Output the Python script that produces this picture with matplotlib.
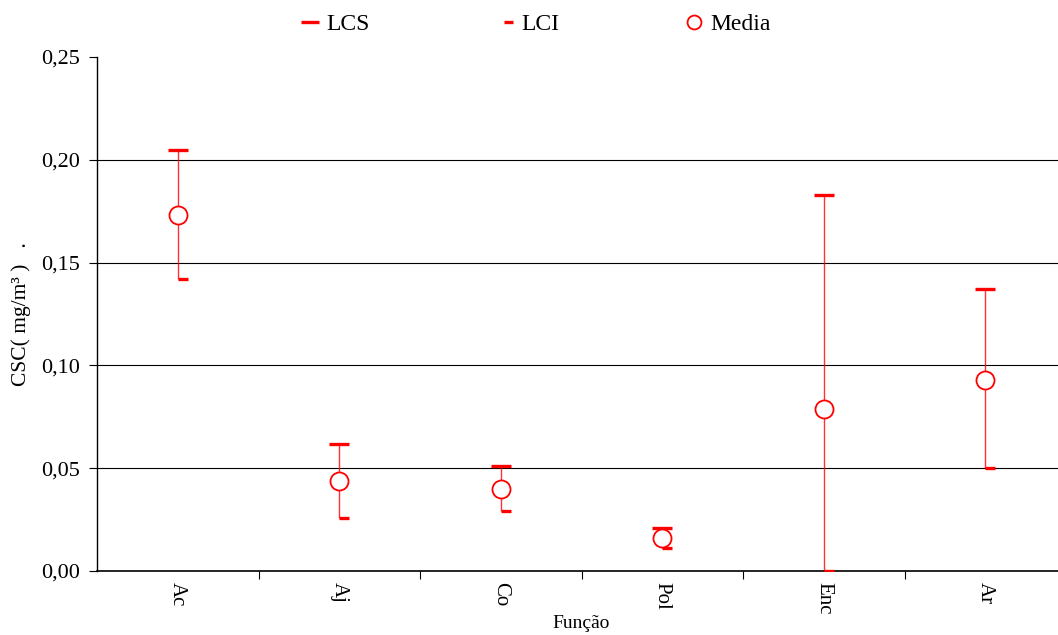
import matplotlib
matplotlib.use("Agg")
import matplotlib.pyplot as plt
from matplotlib.lines import Line2D
from matplotlib.path import Path

# Limites de confiança e média por função
funcoes = ["Ac", "Aj", "Co", "Pol", "Enc", "Ar"]
lcs = [0.205, 0.062, 0.051, 0.021, 0.183, 0.137]
media = [0.173, 0.044, 0.040, 0.016, 0.079, 0.093]
lci = [0.142, 0.026, 0.029, 0.011, 0.000, 0.050]

plt.rcParams["font.family"] = ["Liberation Serif", "DejaVu Serif"]
plt.rcParams["font.size"] = 15

VERM = "#ff0000"
meio_traco = Path([(0, 0), (1, 0)], [Path.MOVETO, Path.LINETO])

fig = plt.figure(figsize=(10.58, 6.35), dpi=100)
ax = fig.add_axes([97 / 1058, 1 - 571 / 635, 969 / 1058, 514 / 635])

x = list(range(len(funcoes)))
ax.vlines(x, lci, lcs, color=VERM, lw=1, alpha=0.8, zorder=3)
ax.plot(x, lcs, ls="none", marker="_", ms=14.5, mew=2.4, color=VERM, zorder=4)
ax.plot(x, lci, ls="none", marker=meio_traco, ms=14.5, mew=2.4, color=VERM, zorder=4)
ax.plot(x, media, ls="none", marker="o", ms=13, mfc="white", mec=VERM, mew=1.3, zorder=5)

ax.set_xlim(-0.5, len(funcoes) - 0.5)
ax.set_ylim(0, 0.25)
ax.set_yticks([0, 0.05, 0.10, 0.15, 0.20, 0.25])
ax.set_yticklabels([f"{v:.2f}".replace(".", ",") for v in ax.get_yticks()], fontsize=16)
for g in [0.05, 0.10, 0.15, 0.20]:
    ax.axhline(g, color="black", lw=0.8, zorder=1)

ax.set_xticks([i + 0.5 for i in x[:-1]])
ax.set_xticklabels([])
ax.set_xticks(x, minor=True)
ax.set_xticklabels(funcoes, minor=True, rotation=-90, fontsize=15)
ax.tick_params(axis="x", which="minor", length=0, pad=8)
ax.tick_params(axis="x", which="major", length=6, direction="out")
ax.tick_params(axis="y", length=6, direction="out", pad=6)

for s in ["top", "right"]:
    ax.spines[s].set_visible(False)
ax.spines["left"].set_linewidth(1)
ax.spines["bottom"].set_linewidth(1.2)

ax.set_xlabel("Função", fontsize=14)
ax.xaxis.set_label_coords(0.5, -(624 - 571) / 514)
ax.xaxis.label.set_va("center")
ax.set_ylabel("CSC( mg/m³ )   .", fontsize=15.5)
ax.yaxis.set_label_coords(-(97 - 21) / 969, 0.5)
ax.yaxis.label.set_va("center")

handles = [
    Line2D([], [], ls="none", marker="_", ms=12.5, mew=2.4, color=VERM),
    Line2D([], [], ls="none", marker=meio_traco, ms=13, mew=2.4, color=VERM),
    Line2D([], [], ls="none", marker="o", ms=10, mfc="white", mec=VERM, mew=1.3),
]
fig.legend(handles, ["LCS", "LCI", "Media"], loc="upper center",
           bbox_to_anchor=(0.505, 1.012), ncol=3, frameon=False,
           columnspacing=5.2, handlelength=1, handletextpad=0.2, fontsize=17)

fig.savefig("out.png", dpi=100)
